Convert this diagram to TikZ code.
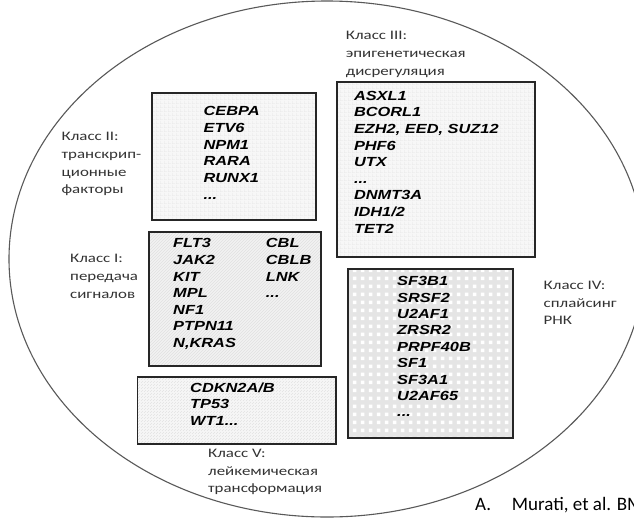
\documentclass[tikz,border=0pt]{standalone}
\usepackage{fontspec}
\usetikzlibrary{patterns,patterns.meta}
\newfontfamily\genefont[FakeStretch=1.24]{Liberation Sans}
\newfontfamily\labfont[FakeStretch=1.3]{Carlito}
\newfontfamily\citefont{Carlito}
\def\gdots{...}
\tikzdeclarepattern{
  name=gridpat, type=uncolored,
  bounding box={(0pt,0pt) and (4pt,4pt)},
  tile size={(4pt,4pt)},
  code={\fill (0pt,0pt) rectangle (4pt,0.6pt); \fill (0pt,0pt) rectangle (0.6pt,4pt);}
}
\tikzdeclarepattern{
  name=whitesq, type=uncolored,
  bounding box={(0pt,0pt) and (8pt,8pt)},
  tile size={(8pt,8pt)},
  code={\fill (1pt,1pt) rectangle (5pt,5pt);}
}
\tikzdeclarepattern{
  name=stipple, type=uncolored,
  bounding box={(0pt,0pt) and (3pt,3pt)},
  tile size={(3pt,3pt)},
  code={\fill (0pt,0pt) rectangle (1.2pt,1.2pt); \fill (1.5pt,1.5pt) rectangle (2.4pt,2.4pt);}
}
\tikzset{
  gene/.style={font=\genefont\bfseries\itshape\fontsize{13.2}{15}\selectfont, inner sep=0pt, anchor=base west, text=black},
  lab/.style={font=\labfont\fontsize{13}{15}\selectfont, inner sep=0pt, anchor=base west, text=black!80},
  cite/.style={font=\citefont\fontsize{19}{22}\selectfont, inner sep=0pt, anchor=base west, text=black},
  boxline/.style={draw=black!85, line width=1.2pt},
  gridbox/.style={boxline, preaction={fill=black!3}, pattern=gridpat, pattern color=black!10},
  hatchbox/.style={boxline, preaction={fill=black!5}, pattern=north east lines, pattern color=black!12},
  sqbox/.style={boxline, preaction={fill=black!10}, pattern=whitesq, pattern color=white},
  stipbox/.style={boxline, preaction={fill=black!4}, pattern=stipple, pattern color=black!10},
  circ/.style={draw=black!65, line width=1.1pt}
}
\begin{document}
\begin{tikzpicture}[x=1pt,y=-1pt]
\clip (0,0) rectangle (634,520);
\fill[white] (0,0) rectangle (634,520);
\draw[circ] (327,259) ellipse [x radius=318, y radius=258];
% boxes
\path[gridbox] (152,93) rectangle (316,220);
\path[gridbox] (337,82) rectangle (535,257);
\path[hatchbox] (149,232) rectangle (321,366);
\path[sqbox] (348,269) rectangle (513,438);
\path[stipbox] (137.5,377) rectangle (336,444);
% gene lists
\foreach \t [count=\i from 0] in {CEBPA,ETV6,NPM1,RARA,RUNX1,\gdots}
  \node[gene, name=gII\i] at (203.4,115.6+16.7*\i) {\t};
\foreach \t [count=\i from 0] in {ASXL1,BCORL1,{EZH2, EED, SUZ12},PHF6,UTX,\gdots,DNMT3A,IDH1/2,TET2}
  \node[gene, name=gIII\i] at (353.8,100.3+16.6*\i) {\t};
\foreach \t [count=\i from 0] in {FLT3,JAK2,KIT,MPL,NF1,PTPN11,{N,KRAS}}
  \node[gene, name=gIa\i] at (173,247.9+16.57*\i) {\t};
\foreach \t [count=\i from 0] in {CBL,CBLB,LNK,\gdots}
  \node[gene, name=gIb\i] at (265.7,247.9+16.57*\i) {\t};
\foreach \t [count=\i from 0] in {SF3B1,SRSF2,U2AF1,ZRSR2,PRPF40B,SF1,SF3A1,U2AF65,\gdots}
  \node[gene, name=gIV\i] at (397,285.6+16.4*\i) {\t};
\foreach \t [count=\i from 0] in {CDKN2A/B,TP53,WT1\gdots}
  \node[gene, name=gV\i] at (190,392.3+16.65*\i) {\t};
% class labels
\foreach \t [count=\i from 0] in {Класс III:,эпигенетическая,дисрегуляция}
  \node[lab, name=lIII\i] at (345.7,39+18*\i) {\t};
\foreach \t [count=\i from 0] in {Класс II:,транскрип-,ционные,факторы}
  \node[lab, name=lII\i] at (61.5,140.5+17.8*\i) {\t};
\foreach \t [count=\i from 0] in {Класс I:,передача,сигналов}
  \node[lab, name=lI\i] at (70,262.5+18*\i) {\t};
\foreach \t [count=\i from 0] in {Класс IV:,сплайсинг,РНК}
  \node[lab, name=lIV\i] at (543.5,289.5+17.5*\i) {\t};
\foreach \t [count=\i from 0] in {Класс V:,лейкемическая,трансформация}
  \node[lab, name=lV\i] at (208,457.5+17.5*\i) {\t};
% citation
\node[cite, name=citeA] at (475,510) {A.};
\node[cite, name=citeB] at (511.7,510) {Murati, et al. BM};
\end{tikzpicture}
\end{document}
